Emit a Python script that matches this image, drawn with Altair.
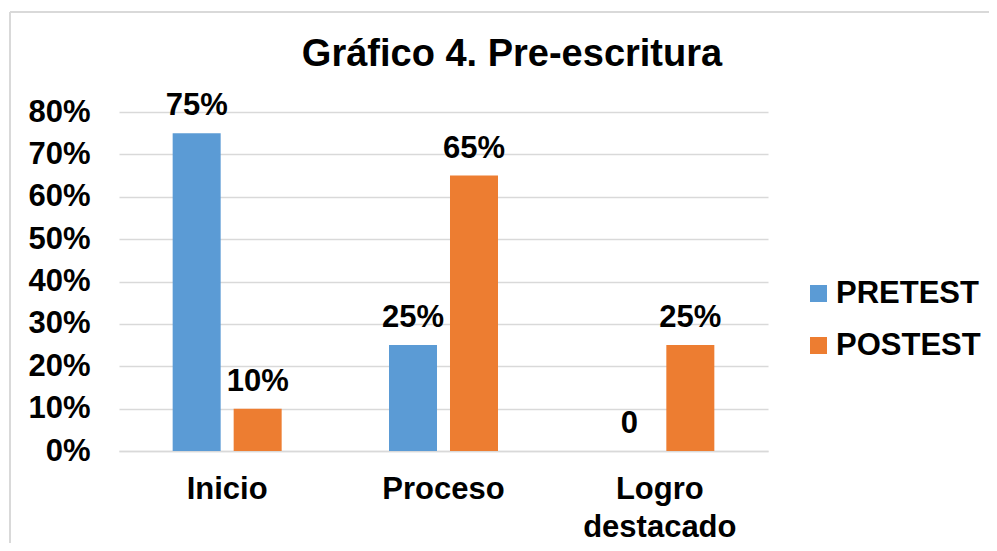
import altair as alt
import pandas as pd

categories = ["Inicio", "Proceso", "Logro destacado"]
series = ["PRETEST", "POSTEST"]
pretest = [0.75, 0.25, 0.0]
postest = [0.10, 0.65, 0.25]
colors = ["#5B9BD5", "#ED7D31"]
y_ticks = [0, 0.1, 0.2, 0.3, 0.4, 0.5, 0.6, 0.7, 0.8]
title_text = "Gráfico 4. Pre-escritura"

rows = []
for c, a, b in zip(categories, pretest, postest):
    rows.append({"cat": c, "serie": "PRETEST", "val": a})
    rows.append({"cat": c, "serie": "POSTEST", "val": b})
df = pd.DataFrame(rows)
df["label"] = [f"{round(v * 100)}%" if v > 0 else "0" for v in df["val"]]

FONT = "Liberation Sans"
W, H = 649, 339

x = alt.X("cat:N", sort=categories, title=None,
          scale=alt.Scale(paddingInner=0, paddingOuter=0),
          axis=alt.Axis(labelAngle=0, labelFontSize=31, labelFont=FONT,
                        labelFontWeight="bold", labelColor="#000000",
                        ticks=False, tickSize=0, labelPadding=23, grid=False,
                        domainColor="#D9D9D9", domainWidth=1.3,
                        labelLineHeight=38,
                        labelExpr="split(datum.label, ' ')"))
xo = alt.XOffset("serie:N", sort=series,
                 scale=alt.Scale(paddingInner=0.2131, paddingOuter=0.8798))
y = alt.Y("val:Q", title=None,
          scale=alt.Scale(domain=[0, 0.8], nice=False),
          axis=alt.Axis(values=y_ticks, format=".0%", labelFontSize=31,
                        labelFont=FONT, labelFontWeight="bold",
                        labelColor="#000000", ticks=False, tickSize=0,
                        labelPadding=29, domain=False, gridColor="#D9D9D9",
                        gridWidth=1.3))
color = alt.Color("serie:N", sort=series,
                  scale=alt.Scale(domain=series, range=colors),
                  legend=alt.Legend(title=None, orient="none", legendX=684,
                                    legendY=166, symbolType="square",
                                    symbolSize=289, symbolStrokeWidth=0,
                                    labelFontSize=31, labelFont=FONT,
                                    labelFontWeight="bold",
                                    labelColor="#000000", labelOffset=2,
                                    rowPadding=20))

base = alt.Chart(df)
bars = base.mark_bar().encode(x=x, xOffset=xo, y=y, color=color)
labels = base.mark_text(
    font=FONT, fontSize=31, fontWeight="bold", baseline="alphabetic",
    dy=-18, color="#000000").encode(x=x, xOffset=xo, y=y, text="label:N")

title = alt.Chart(pd.DataFrame({"t": [title_text]})).mark_text(
    font=FONT, fontSize=38, fontWeight="bold", baseline="alphabetic",
    align="center", color="#000000").encode(
    x=alt.value(393), y=alt.value(-46), text="t:N")

border_left = alt.Chart(df).mark_rule(color="#D9D9D9", strokeWidth=1.5).encode(
    x=alt.value(-109), y=alt.value(-100), y2=alt.value(H + 300))
border_top = alt.Chart(df).mark_rule(color="#D9D9D9", strokeWidth=1.5).encode(
    x=alt.value(-109), x2=alt.value(W + 400), y=alt.value(-100))

chart = alt.layer(border_left, border_top, bars, labels, title).properties(
    width=W, height=H,
    background="white",
    autosize=alt.AutoSizeParams(type="none"),
    padding={"left": 111, "top": 104, "right": 221, "bottom": 92},
).configure_view(stroke=None)

chart.save("out.html", embed_options={"renderer": "svg", "actions": False})
